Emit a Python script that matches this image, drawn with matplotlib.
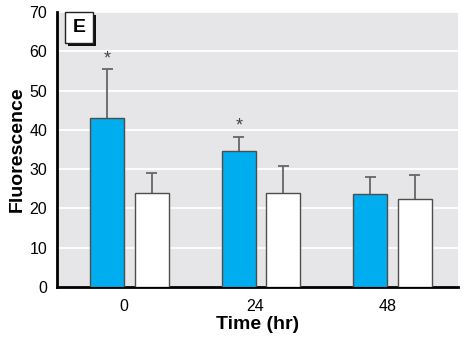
import matplotlib.pyplot as plt
import numpy as np

plt.rcParams['font.family'] = ['Liberation Sans', 'DejaVu Sans']

# 시간별 형광 평균값과 오차 (위쪽만)
times = ['0', '24', '48']
treated = [43.1, 34.7, 23.6]
treated_err = [12.3, 3.4, 4.3]
control = [23.8, 23.8, 22.5]
control_err = [5.1, 7.1, 6.0]
star = [True, True, False]

x = np.arange(len(times))
w = 0.258
xb = x - 0.167   # 파란 막대 위치
xw = x + 0.171   # 흰 막대 위치

fig = plt.figure(figsize=(4.72, 3.40), dpi=100)
ax = fig.add_axes([0.1208, 0.1559, 0.8496, 0.8088])
ax.set_facecolor('#e6e6e8')

ax.bar(xb, treated, w, color='#00aeef', edgecolor='#4d4d4d', linewidth=1, zorder=3)
ax.bar(xw, control, w, color='white', edgecolor='#4d4d4d', linewidth=1, zorder=3)

# 오차막대 (위쪽만)
cap = 0.042
for xs, v, e in [(xb, treated, treated_err), (xw, control, control_err)]:
    top = np.array(v) + np.array(e)
    ax.vlines(xs, v, top, color='#666666', linewidth=1.3, zorder=2)
    ax.hlines(top, xs - cap, xs + cap, color='#666666', linewidth=1.3, zorder=2)

# 유의차 표시
for i in range(len(times)):
    if star[i]:
        ax.text(xb[i], treated[i] + treated_err[i] + 0.6, '*', ha='center',
                va='bottom', fontsize=13, color='#444444')

ax.set_ylim(0, 70)
ax.set_xlim(-0.547, 2.498)
ax.set_yticks(range(0, 71, 10))
ax.set_xticks(x - 0.04)
ax.set_xticklabels(times)
ax.tick_params(axis='y', length=0, labelsize=11.5, pad=7)
ax.tick_params(axis='x', length=0, labelsize=11.5, pad=9)
ax.grid(True, axis='y', color='white', linewidth=1.3, zorder=0)
ax.set_axisbelow(True)
for s in ['top', 'right']:
    ax.spines[s].set_visible(False)
ax.spines['left'].set_linewidth(2)
ax.spines['bottom'].set_linewidth(2)

ax.set_ylabel('Fluorescence', fontsize=14, fontweight='bold', labelpad=3)
ax.set_xlabel('Time (hr)', fontsize=14, fontweight='bold', labelpad=1)

# 패널 라벨 E (그림자 박스)
ax.add_patch(plt.Rectangle((0.0275, 0.876), 0.0698, 0.113, transform=ax.transAxes,
                           facecolor='#111111', edgecolor='none', zorder=4, clip_on=False))
ax.add_patch(plt.Rectangle((0.020, 0.887), 0.0698, 0.113, transform=ax.transAxes,
                           facecolor='white', edgecolor='#222222', linewidth=1,
                           zorder=5, clip_on=False))
ax.text(0.055, 0.9435, 'E', transform=ax.transAxes, fontsize=14, fontweight='bold',
        ha='center', va='center', zorder=6)

fig.savefig('out.png', dpi=100)
